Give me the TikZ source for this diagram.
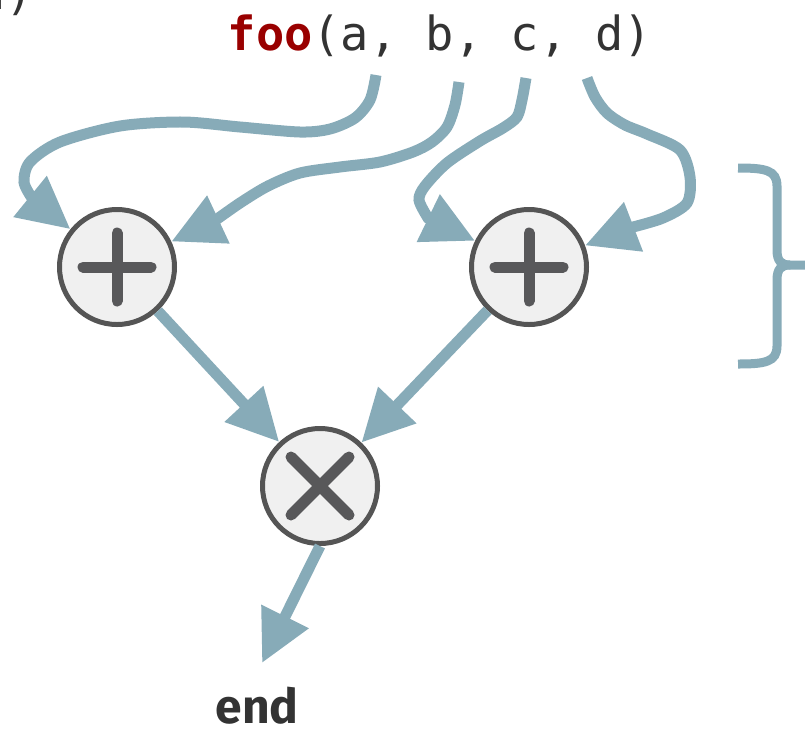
\documentclass[tikz,border=0pt]{standalone}
\usepackage{fontspec}
\usetikzlibrary{arrows.meta}
\newfontfamily\monof{DejaVu Sans Mono}
\newfontfamily\endfont{Fira Sans}
\definecolor{arrowc}{RGB}{135,171,184}
\definecolor{opborder}{RGB}{85,85,85}
\definecolor{opfill}{RGB}{240,240,240}
\definecolor{symc}{RGB}{88,88,90}
\definecolor{txtc}{RGB}{51,51,51}
\definecolor{fooc}{RGB}{153,0,0}
\tikzset{
  opnode/.style={circle, draw=opborder, line width=5pt, fill=opfill, minimum size=115pt, inner sep=0pt},
  sym/.style={draw=symc, line width=11pt, line cap=round},
  conn/.style={draw=arrowc, line width=11pt, -{Triangle[length=52pt,width=50pt]}},
  bracestyle/.style={draw=arrowc, line width=9pt},
}
\begin{document}
\begin{tikzpicture}[x=1pt,y=-1pt]
\useasboundingbox (0,0) rectangle (805,732);
% text
\node[anchor=base, inner sep=0pt, text=txtc, font=\monof\fontsize{47}{56}\selectfont] (call) at (440,50) {\textcolor{fooc}{\bfseries foo}(a, b, c, d)};
\node[anchor=base east, inner sep=0pt, text=txtc, font=\monof\fontsize{47}{56}\selectfont] (frag) at (34,9) {d)};
\node[anchor=base, inner sep=0pt, text depth=0pt, text=txtc, font=\endfont\bfseries\fontsize{48}{56}\selectfont] (endl) at (257,723) {end};
% operator nodes
\node[opnode] (p1) at (117,267) {};
\node[opnode] (p2) at (529,267) {};
\node[opnode] (t) at (320,486) {};
\draw[sym] (p1) ++(-34,0) -- ++(68,0);
\draw[sym] (p1) ++(0,-34) -- ++(0,68);
\draw[sym] (p2) ++(-34,0) -- ++(68,0);
\draw[sym] (p2) ++(0,-34) -- ++(0,68);
\draw[sym] (t) ++(-29,-29) -- ++(58,58);
\draw[sym] (t) ++(29,-29) -- ++(-58,58);
% argument coordinates
\coordinate (ca) at (376,75);
\coordinate (cb) at (459,82);
\coordinate (cc) at (526,78);
\coordinate (cd) at (587,78);
\coordinate (endc) at (262,663);
% connectors
\draw[conn] plot[smooth] coordinates {(ca) (370,100) (355,118) (330,129) (300,132) (240,127) (183,122) (120,126) (60,142) (30,162) (24,182) (32,198)} -- (p1);
\draw[conn] plot[smooth] coordinates {(cb) (455,105) (447,127) (432,142) (413,152) (380,162) (340,167) (300,173) (268,186) (240,203) (213,222)} -- (p1);
\draw[conn] plot[smooth] coordinates {(cc) (522,100) (517,117) (503,128) (480,141) (447,163) (425,186) (419,200) (428,218)} -- (p2);
\draw[conn] plot[smooth] coordinates {(cd) (595,97) (607,113) (625,125) (647,134) (680,150) (690,177) (687,203) (663,218) (633,227)} -- (p2);
\draw[conn] (p1) -- (t);
\draw[conn] (p2) -- (t);
\draw[conn] (t.south) -- (endc);
% brace
\draw[bracestyle] (738,168) .. controls (765,168) and (777,170) .. (777,186) -- (777,250) .. controls (777,261) and (781,265) .. (790,265) -- (805,265);
\draw[bracestyle] (738,364) .. controls (765,364) and (777,362) .. (777,346) -- (777,280) .. controls (777,269) and (781,265) .. (790,265);
\end{tikzpicture}
\end{document}
